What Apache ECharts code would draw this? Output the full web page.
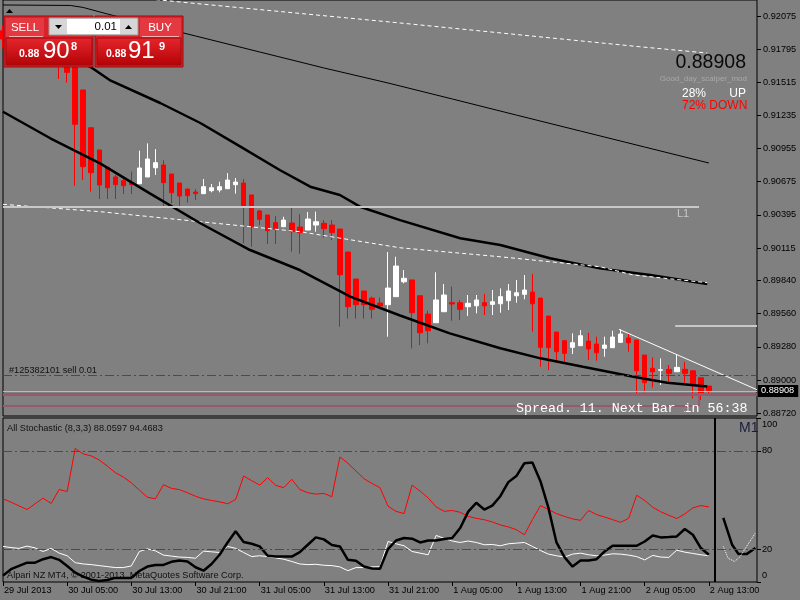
<!DOCTYPE html>
<html>
<head>
<meta charset="utf-8">
<title>NZDUSD H1</title>
<script src="https://cdn.jsdelivr.net/npm/echarts@6/dist/echarts.min.js"></script>
<style>
html, body { margin: 0; padding: 0; background: #808080; }
#chart { width: 800px; height: 600px; }
</style>
</head>
<body>
<div id="chart"></div>
<script>
// hourly bars, 29 Jul 21:00 .. 2 Aug 13:00, [open, close, low, high]
const candles = [
    [0.9195, 0.9188, 0.9180, 0.9200], [0.9188, 0.9192, 0.9183, 0.9197], [0.9192, 0.9185, 0.9180, 0.9196],
    [0.9185, 0.9180, 0.9175, 0.9190], [0.9180, 0.9184, 0.9176, 0.9188], [0.9184, 0.9178, 0.9172, 0.9187],
    [0.9178, 0.9175, 0.9170, 0.9182], [0.9175, 0.9170, 0.91543, 0.9178], [0.9170, 0.91599, 0.91511, 0.9172],
    [0.9166, 0.91160, 0.90641, 0.9168], [0.91450, 0.90802, 0.90689, 0.91450], [0.91131, 0.90751, 0.90591, 0.91131],
    [0.90943, 0.90647, 0.90529, 0.90943], [0.90797, 0.90624, 0.90529, 0.90797], [0.90715, 0.90650, 0.90529, 0.90732],
    [0.90683, 0.90641, 0.90571, 0.90717], [0.90667, 0.90650, 0.90571, 0.90760], [0.90658, 0.90791, 0.90658, 0.90937],
    [0.90715, 0.90867, 0.90715, 0.90999], [0.90793, 0.90836, 0.90732, 0.90951], [0.90816, 0.90667, 0.90450, 0.90858],
    [0.90740, 0.90582, 0.90493, 0.90740], [0.90664, 0.90554, 0.90450, 0.90664], [0.90613, 0.90557, 0.90498, 0.90613],
    [0.90588, 0.90574, 0.90520, 0.90613], [0.90574, 0.90633, 0.90574, 0.90698], [0.90599, 0.90624, 0.90585, 0.90656],
    [0.90605, 0.90633, 0.90585, 0.90675], [0.90616, 0.90689, 0.90616, 0.90748], [0.90650, 0.90672, 0.90574, 0.90706],
    [0.90664, 0.90464, 0.90155, 0.90698], [0.90563, 0.90295, 0.90126, 0.90563], [0.90428, 0.90357, 0.90309, 0.90436],
    [0.90394, 0.90261, 0.90149, 0.90394], [0.90329, 0.90273, 0.90149, 0.90385], [0.90295, 0.90351, 0.90295, 0.90379],
    [0.90326, 0.90253, 0.90084, 0.90470], [0.90292, 0.90244, 0.90067, 0.90400], [0.90267, 0.90360, 0.90267, 0.90419],
    [0.90309, 0.90337, 0.90253, 0.90422], [0.90324, 0.90278, 0.90202, 0.90351], [0.90309, 0.90244, 0.90183, 0.90351],
    [0.90275, 0.89889, 0.89450, 0.90275], [0.90081, 0.89619, 0.89518, 0.90081], [0.89853, 0.89636, 0.89518, 0.89853],
    [0.89752, 0.89636, 0.89518, 0.89752], [0.89692, 0.89597, 0.89518, 0.89704], [0.89650, 0.89625, 0.89597, 0.89698],
    [0.89636, 0.89777, 0.89366, 0.90081], [0.89704, 0.89963, 0.89704, 0.90041], [0.89830, 0.89859, 0.89817, 0.89929],
    [0.89845, 0.89568, 0.89268, 0.89845], [0.89712, 0.89399, 0.89295, 0.89712], [0.89557, 0.89416, 0.89310, 0.89585],
    [0.89484, 0.89676, 0.89484, 0.89910], [0.89577, 0.89718, 0.89577, 0.89811], [0.89653, 0.89642, 0.89501, 0.89788],
    [0.89653, 0.89597, 0.89507, 0.89676], [0.89619, 0.89648, 0.89540, 0.89718], [0.89627, 0.89676, 0.89563, 0.89718],
    [0.89653, 0.89627, 0.89549, 0.89726], [0.89639, 0.89661, 0.89549, 0.89760], [0.89644, 0.89704, 0.89568, 0.89774],
    [0.89670, 0.89752, 0.89591, 0.89811], [0.89712, 0.89737, 0.89653, 0.89845], [0.89724, 0.89760, 0.89682, 0.89887],
    [0.89743, 0.89644, 0.89408, 0.89895], [0.89692, 0.89276, 0.89112, 0.89692], [0.89540, 0.89273, 0.89084, 0.89540],
    [0.89405, 0.89239, 0.89146, 0.89405], [0.89332, 0.89225, 0.89135, 0.89338], [0.89276, 0.89315, 0.89219, 0.89394],
    [0.89290, 0.89374, 0.89290, 0.89422], [0.89329, 0.89262, 0.89169, 0.89399], [0.89304, 0.89230, 0.89163, 0.89366],
    [0.89268, 0.89295, 0.89197, 0.89366], [0.89273, 0.89363, 0.89273, 0.89416], [0.89318, 0.89388, 0.89318, 0.89428],
    [0.89355, 0.89315, 0.89239, 0.89394], [0.89338, 0.89078, 0.88882, 0.89338], [0.89211, 0.88977, 0.88896, 0.89211],
    [0.89099, 0.89070, 0.88938, 0.89192], [0.89082, 0.89087, 0.88958, 0.89183], [0.89090, 0.89056, 0.88972, 0.89127],
    [0.89070, 0.89107, 0.89070, 0.89217], [0.89090, 0.89056, 0.88958, 0.89154], [0.89078, 0.88955, 0.88845, 0.89078],
    [0.89019, 0.88882, 0.88831, 0.89019], [0.88949, 0.88908, 0.88873, 0.88949]
];

// indicator lines on the price chart, [bar position, price]
const maTop = [[0, 0.92168], [8.4, 0.92164], [10, 0.92147], [13, 0.92092], [16, 0.92041], [24, 0.91906],
    [32, 0.91771], [40, 0.91636], [48, 0.91509], [56, 0.91374], [64, 0.91238], [72, 0.91103], [80, 0.90968], [88, 0.90833]];
const maMid = [[4.6, 0.91872], [11.1, 0.91636], [13.3, 0.91534], [19.6, 0.91340], [24.6, 0.91171], [29.6, 0.90971],
    [34.5, 0.90774], [38.3, 0.90633], [42.0, 0.90563], [44.5, 0.90464], [49.5, 0.90351], [57.0, 0.90197],
    [62.0, 0.90140], [68.2, 0.90028], [74.4, 0.89943], [80.7, 0.89887], [87.8, 0.89811]];
const maLow = [[0, 0.91266], [5.9, 0.91042], [12.1, 0.90830], [18.3, 0.90577], [24.6, 0.90324], [30.8, 0.90098],
    [37.0, 0.89929], [43.3, 0.89704], [49.5, 0.89545], [55.7, 0.89394], [62.0, 0.89268], [67.0, 0.89183],
    [72.3, 0.89112], [78.6, 0.89028], [82.8, 0.88977], [87.8, 0.88945]];
const envUpper = [[12.1, 0.92261], [22.1, 0.92193], [49.5, 0.92016], [79.4, 0.91815], [87.8, 0.91762]];
const envLower = [[0, 0.90484], [12.1, 0.90422], [24.6, 0.90337], [37.0, 0.90253], [49.5, 0.90117],
    [62.0, 0.90041], [74.4, 0.89957], [78.6, 0.89887], [87.8, 0.89822]];

// drawn objects
const levelL1 = 0.90464;
const levelRight = 0.89459;
const trendLine = [[76.8, 0.89428], [94, 0.88918]];
const orderPrice = 0.89042;
const bidPrice = 0.88908;
const band1 = 0.88882;
const band2 = 0.88783;
const objectEnd = 86.77;

// stochastic (8,3,3), one value per bar
const stochRed = [50.7, 48.7, 46.4, 44.2, 47.7, 51.1, 47.9, 56.4, 55.2, 81.4,
    78.1, 76.9, 74.4, 70.7, 66.7, 64.0, 60.5, 56.0, 51.7, 50.7,
    59.3, 57.1, 56.3, 54.4, 52.3, 50.7, 49.7, 48.9, 47.7, 50.3,
    64.6, 61.8, 59.1, 63.6, 58.9, 57.5, 62.6, 56.4, 54.4, 53.6,
    54.0, 52.0, 76.3, 72.4, 67.7, 63.0, 60.1, 57.5, 46.2, 43.1,
    41.7, 59.1, 55.4, 51.3, 45.8, 43.1, 43.6, 42.5, 40.0, 38.8,
    38.0, 36.6, 34.8, 33.6, 31.9, 28.8, 38.0, 46.6, 44.2, 41.7,
    40.0, 38.5, 37.6, 43.6, 41.1, 39.6, 38.0, 36.4, 38.8, 52.9,
    49.7, 45.6, 42.8, 40.7, 38.7, 41.5, 45.2, 46.6, 45.8];
const stochWhite = [21.7, 21.0, 20.5, 21.9, 20.8, 18.6, 20.5, 17.6, 16.0, 11.8,
    11.0, 10.6, 10.0, 9.4, 8.8, 8.8, 9.8, 18.6, 20.2, 19.0,
    16.4, 15.8, 15.2, 15.0, 14.5, 18.8, 18.4, 18.0, 21.7, 20.5,
    18.0, 15.5, 16.0, 15.5, 14.7, 13.9, 12.5, 11.0, 10.6, 10.8,
    10.2, 10.0, 9.2, 6.9, 8.8, 8.8, 9.2, 9.4, 24.7, 23.3,
    22.1, 18.6, 17.6, 16.6, 28.4, 26.6, 25.0, 24.1, 25.0, 24.1,
    22.7, 22.9, 22.1, 23.3, 23.7, 24.1, 21.7, 19.2, 17.0, 16.0,
    15.2, 17.0, 17.6, 16.6, 16.0, 16.4, 17.2, 17.0, 16.4, 15.5,
    13.5, 16.2, 15.2, 15.0, 19.4, 18.2, 17.4, 16.6, 16.0];
const stochBlack = [3.9, 7.8, 9.8, 11.8, 11.8, 13.9, 15.2, 13.5, 9.8, 5.7,
    3.3, 1.4, 0.6, 1.2, 2.5, 2.5, 2.5, 6.7, 9.4, 10.4,
    10.4, 12.3, 13.1, 12.5, 9.0, 6.9, 11.0, 16.6, 24.1, 30.9,
    24.4, 23.3, 21.7, 16.0, 15.5, 15.5, 15.5, 18.2, 22.7, 27.2,
    26.0, 22.5, 21.7, 13.5, 12.9, 9.4, 8.2, 8.1, 20.1, 25.3,
    26.8, 26.4, 24.1, 25.3, 25.3, 26.2, 26.8, 32.9, 42.9, 48.3,
    44.2, 46.6, 52.3, 60.9, 64.6, 72.4, 72.8, 61.5, 45.2, 24.1,
    15.2, 9.4, 13.1, 13.1, 13.9, 18.6, 22.1, 22.1, 22.1, 22.1,
    24.7, 28.4, 27.2, 27.4, 27.8, 32.3, 28.8, 20.7, 16.6];
// M1 stochastic shown right of the separator
const m1Black = [[89.8, 39.1], [90.9, 22.7], [91.7, 17.0], [92.7, 17.0], [93.8, 20.7]];
const m1White = [[89.8, 21.7], [90.4, 14.5], [91.2, 12.5], [91.9, 15.5], [92.7, 21.7], [93.8, 29.9]];
const m1Separator = 88.77;

const timeLabels = ['29 Jul 2013', '30 Jul 05:00', '30 Jul 13:00', '30 Jul 21:00', '31 Jul 05:00', '31 Jul 13:00',
    '31 Jul 21:00', '1 Aug 05:00', '1 Aug 13:00', '1 Aug 21:00', '2 Aug 05:00', '2 Aug 13:00'];
const priceTicks = [0.92075, 0.91795, 0.91515, 0.91235, 0.90955, 0.90675, 0.90395, 0.90115,
    0.89840, 0.89560, 0.89280, 0.89000, 0.88720];
const stochTicks = [0, 20, 80, 100];
const stochLevels = [80, 20];

const barCount = 95;
const categories = Array.from({ length: barCount }, (_, i) => i);

const font = 'Liberation Sans';
const small = 9.2;
const dashDot = [9, 3, 2, 3];
const levelGreen = '#008000';

const chart = echarts.init(document.getElementById('chart'));

const overlay = (data, lineStyle, extra) => Object.assign({
    type: 'line',
    xAxisIndex: 1,
    yAxisIndex: 0,
    data,
    symbol: 'none',
    silent: true,
    z: 3,
    lineStyle
}, extra || {});

const text = (x, y, str, style) => ({
    type: 'text',
    x,
    y,
    z: 50,
    style: Object.assign({
        text: str,
        fill: '#111',
        fontFamily: font,
        fontSize: small,
        verticalAlign: 'middle'
    }, style || {})
});

const redFill = new echarts.graphic.LinearGradient(0, 0, 0, 1, [
    { offset: 0, color: '#E5262D' },
    { offset: 1, color: '#B30306' }
]);

const option = {
    backgroundColor: '#808080',
    animation: false,
    textStyle: { fontFamily: font },
    grid: [
        { left: 3, top: 0, width: 754, height: 416, show: true, borderColor: '#000', borderWidth: 1, outerBoundsMode: 'none' },
        { left: 3, top: 418, width: 754, height: 164, show: true, borderColor: '#000', borderWidth: 1, outerBoundsMode: 'none' }
    ],
    xAxis: [
        { type: 'category', gridIndex: 0, data: categories, boundaryGap: false, show: false },
        { type: 'value', gridIndex: 0, min: 0, max: barCount - 1, show: false },
        {
            type: 'category',
            gridIndex: 1,
            data: categories,
            boundaryGap: false,
            axisLine: { show: false, onZero: false },
            axisTick: { interval: 7, length: 4, lineStyle: { color: '#000' } },
            axisLabel: {
                interval: 7,
                align: 'left',
                margin: 4,
                padding: [0, 0, 0, 1],
                color: '#000',
                fontSize: small,
                formatter: (v, i) => timeLabels[i / 8]
            }
        },
        { type: 'value', gridIndex: 1, min: 0, max: barCount - 1, show: false }
    ],
    yAxis: [
        {
            type: 'value',
            gridIndex: 0,
            position: 'right',
            min: 0.88696,
            max: 0.92210,
            splitLine: { show: false },
            axisLine: { show: false, onZero: false },
            axisTick: { show: true, customValues: priceTicks, length: 4, lineStyle: { color: '#000' } },
            axisLabel: {
                customValues: priceTicks,
                formatter: v => v.toFixed(5),
                color: '#000',
                fontSize: small,
                margin: 6
            }
        },
        {
            type: 'value',
            gridIndex: 1,
            position: 'right',
            min: 0,
            max: 100,
            splitLine: { show: false },
            axisLine: { show: false, onZero: false },
            axisTick: { show: true, customValues: stochTicks, length: 4, lineStyle: { color: '#000' } },
            axisLabel: {
                customValues: stochTicks,
                color: '#000',
                fontSize: small,
                margin: 5,
                formatter: v => v === 100 ? '{t|100}' : v === 0 ? '{b|0}' : String(v),
                rich: {
                    t: { padding: [13, 0, 0, 0], fontSize: small, color: '#000' },
                    b: { padding: [0, 0, 13, 0], fontSize: small, color: '#000' }
                }
            }
        }
    ],
    series: [
        {
            type: 'candlestick',
            xAxisIndex: 0,
            yAxisIndex: 0,
            data: candles,
            barWidth: 5,
            silent: true,
            itemStyle: {
                color: '#FFFFFF',
                color0: '#FF0000',
                borderColor: '#FFFFFF',
                borderColor0: '#FF0000',
                borderWidth: 1
            }
        },
        overlay(maTop, { color: '#000', width: 1 }),
        overlay(maMid, { color: '#000', width: 2.5 }),
        overlay(envUpper, { color: '#FFFFFF', width: 1, type: [4, 3] }),
        overlay(envLower, { color: '#FFFFFF', width: 1, type: [4, 3] }),
        overlay(maLow, { color: '#000', width: 2.5 }, {
            markLine: {
                silent: true,
                precision: 5,
                symbol: ['none', 'none'],
                label: { show: false },
                data: [
                    [{ coord: [0, levelL1], lineStyle: { color: '#C8C8C8', width: 2, type: 'solid' } }, { coord: [objectEnd, levelL1] }],
                    [{ coord: [83.8, levelRight], lineStyle: { color: '#C8C8C8', width: 2, type: 'solid' } }, { coord: [barCount - 1, levelRight] }],
                    [{ coord: trendLine[0], lineStyle: { color: '#FFFFFF', width: 1, type: 'solid' } }, { coord: trendLine[1] }],
                    [{ coord: [0, orderPrice], lineStyle: { color: levelGreen, width: 1, type: dashDot } }, { coord: [barCount - 1, orderPrice] }],
                    [{ coord: [0, band1], lineStyle: { color: '#955A70', width: 3, type: 'solid' } }, { coord: [barCount - 1, band1] }],
                    [{ coord: [0, band2], lineStyle: { color: '#955A70', width: 2, type: 'solid' } }, { coord: [objectEnd, band2] }],
                    [{ coord: [objectEnd, band1], lineStyle: { color: '#955A70', width: 2, type: 'solid' } }, { coord: [objectEnd, band2] }],
                    [
                        {
                            coord: [0, bidPrice],
                            lineStyle: { color: '#A2DE3C', width: 1, type: 'solid' },
                            label: {
                                show: true,
                                position: 'end',
                                distance: 1,
                                formatter: bidPrice.toFixed(5),
                                color: '#FFFFFF',
                                backgroundColor: '#000',
                                padding: [2, 4, 1, 3],
                                fontSize: small
                            }
                        },
                        { coord: [barCount - 1, bidPrice] }
                    ]
                ]
            }
        }),
        {
            type: 'line',
            xAxisIndex: 2,
            yAxisIndex: 1,
            data: stochRed,
            symbol: 'none',
            silent: true,
            lineStyle: { color: '#FF0000', width: 1 }
        },
        {
            type: 'line',
            xAxisIndex: 2,
            yAxisIndex: 1,
            data: stochWhite,
            symbol: 'none',
            silent: true,
            lineStyle: { color: '#FFFFFF', width: 1 }
        },
        {
            type: 'line',
            xAxisIndex: 2,
            yAxisIndex: 1,
            data: stochBlack,
            symbol: 'none',
            silent: true,
            lineStyle: { color: '#000', width: 2.5 },
            markLine: {
                silent: true,
                symbol: ['none', 'none'],
                label: { show: false },
                lineStyle: { color: levelGreen, width: 1, type: dashDot },
                data: stochLevels.map(v => ({ yAxis: v }))
            }
        },
        {
            type: 'line',
            xAxisIndex: 3,
            yAxisIndex: 1,
            data: m1Black,
            symbol: 'none',
            silent: true,
            lineStyle: { color: '#000', width: 2.5 },
            markLine: {
                silent: true,
                precision: 3,
                symbol: ['none', 'none'],
                label: { show: false },
                lineStyle: { color: '#000', width: 2, type: 'solid' },
                data: [{ xAxis: m1Separator }]
            }
        },
        {
            type: 'line',
            xAxisIndex: 3,
            yAxisIndex: 1,
            data: m1White,
            symbol: 'none',
            silent: true,
            lineStyle: { color: '#FFFFFF', width: 1, type: 'dotted' }
        }
    ],
    graphic: [
        // one-click trading panel
        { type: 'rect', z: 100, shape: { x: 4, y: 16, width: 89, height: 51 }, style: { fill: '#D9222A', stroke: '#9E0B10' } },
        { type: 'rect', z: 100, shape: { x: 95, y: 16, width: 88, height: 51 }, style: { fill: '#D9222A', stroke: '#9E0B10' } },
        { type: 'rect', z: 101, shape: { x: 6, y: 38, width: 86, height: 27 }, style: { fill: redFill, stroke: '#A00A0E' } },
        { type: 'rect', z: 101, shape: { x: 97, y: 38, width: 84, height: 27 }, style: { fill: redFill, stroke: '#A00A0E' } },
        { type: 'rect', z: 101, shape: { x: 6, y: 18, width: 38, height: 19 }, style: { fill: '#E43940' } },
        { type: 'rect', z: 101, shape: { x: 140, y: 18, width: 41, height: 19 }, style: { fill: '#E43940' } },
        { type: 'line', z: 102, shape: { x1: 9, y1: 36.5, x2: 43, y2: 36.5 }, style: { stroke: '#F3B0B0' } },
        { type: 'line', z: 102, shape: { x1: 142, y1: 36.5, x2: 179, y2: 36.5 }, style: { stroke: '#F3B0B0' } },
        { type: 'rect', z: 101, shape: { x: 49, y: 18, width: 89, height: 17 }, style: { fill: '#D6D6D6', stroke: '#9A9A9A' } },
        { type: 'rect', z: 102, shape: { x: 67, y: 19, width: 53, height: 15 }, style: { fill: '#FFFFFF' } },
        { type: 'polygon', z: 102, shape: { points: [[55, 25], [62, 25], [58.5, 29]] }, style: { fill: '#000' } },
        { type: 'polygon', z: 102, shape: { points: [[125, 29], [132, 29], [128.5, 25]] }, style: { fill: '#000' } },
        Object.assign(text(25, 28, 'SELL', { fill: '#FFF', fontSize: 11.5, align: 'center' }), { z: 103 }),
        Object.assign(text(160, 28, 'BUY', { fill: '#FFF', fontSize: 11.5, align: 'center' }), { z: 103 }),
        Object.assign(text(117, 27, '0.01', { fill: '#000', fontSize: 11.5, align: 'right' }), { z: 103 }),
        Object.assign(text(19, 54, '0.88', { fill: '#FFF', fontSize: 10.5, fontWeight: 'bold' }), { z: 103 }),
        Object.assign(text(43, 51, '90', { fill: '#FFF', fontSize: 24 }), { z: 103 }),
        Object.assign(text(71, 47, '8', { fill: '#FFF', fontSize: 11, fontWeight: 'bold' }), { z: 103 }),
        Object.assign(text(106, 54, '0.88', { fill: '#FFF', fontSize: 10.5, fontWeight: 'bold' }), { z: 103 }),
        Object.assign(text(128, 51, '91', { fill: '#FFF', fontSize: 24 }), { z: 103 }),
        Object.assign(text(159, 47, '9', { fill: '#FFF', fontSize: 11, fontWeight: 'bold' }), { z: 103 }),
        { type: 'polygon', z: 100, shape: { points: [[6, 13], [13, 13], [9.5, 9]] }, style: { fill: '#000' } },

        // chart texts
        text(746, 63, '0.88908', { align: 'right', fontSize: 19.5, fill: '#0A0A0A' }),
        text(747, 79, 'Good_day_scalper_mod', { align: 'right', fontSize: 8, fill: '#A8A8A8' }),
        text(682, 94, '28%', { fontSize: 12, fill: '#FFFFFF' }),
        text(746, 94, 'UP', { align: 'right', fontSize: 12, fill: '#FFFFFF' }),
        text(682, 106, '72% DOWN', { fontSize: 12, fill: '#FF0000' }),
        text(677, 214, 'L1', { fontSize: 11, fill: '#C8C8C8' }),
        text(9, 370, '#125382101 sell 0.01'),
        text(679, 400, 'L1', { fontSize: 9, fill: '#8C7880' }),
        text(679, 411, 'L2', { fontSize: 9, fill: '#8C7880' }),
        Object.assign(text(516, 408, 'Spread. 11. Next Bar in 56:38', { fontFamily: 'Liberation Mono', fontSize: 13.3, fill: '#FFFFFF' }), { z: 20 }),
        text(7, 428, 'All Stochastic (8,3,3) 88.0597 94.4683'),
        text(739, 428, 'M1', { fontSize: 14, fill: '#1B1B3A' }),
        Object.assign(text(7, 575, 'Alpari NZ MT4, \u00A9 2001-2013, MetaQuotes Software Corp.'), { z: 0 })
    ]
};

chart.setOption(option);
</script>
</body>
</html>
